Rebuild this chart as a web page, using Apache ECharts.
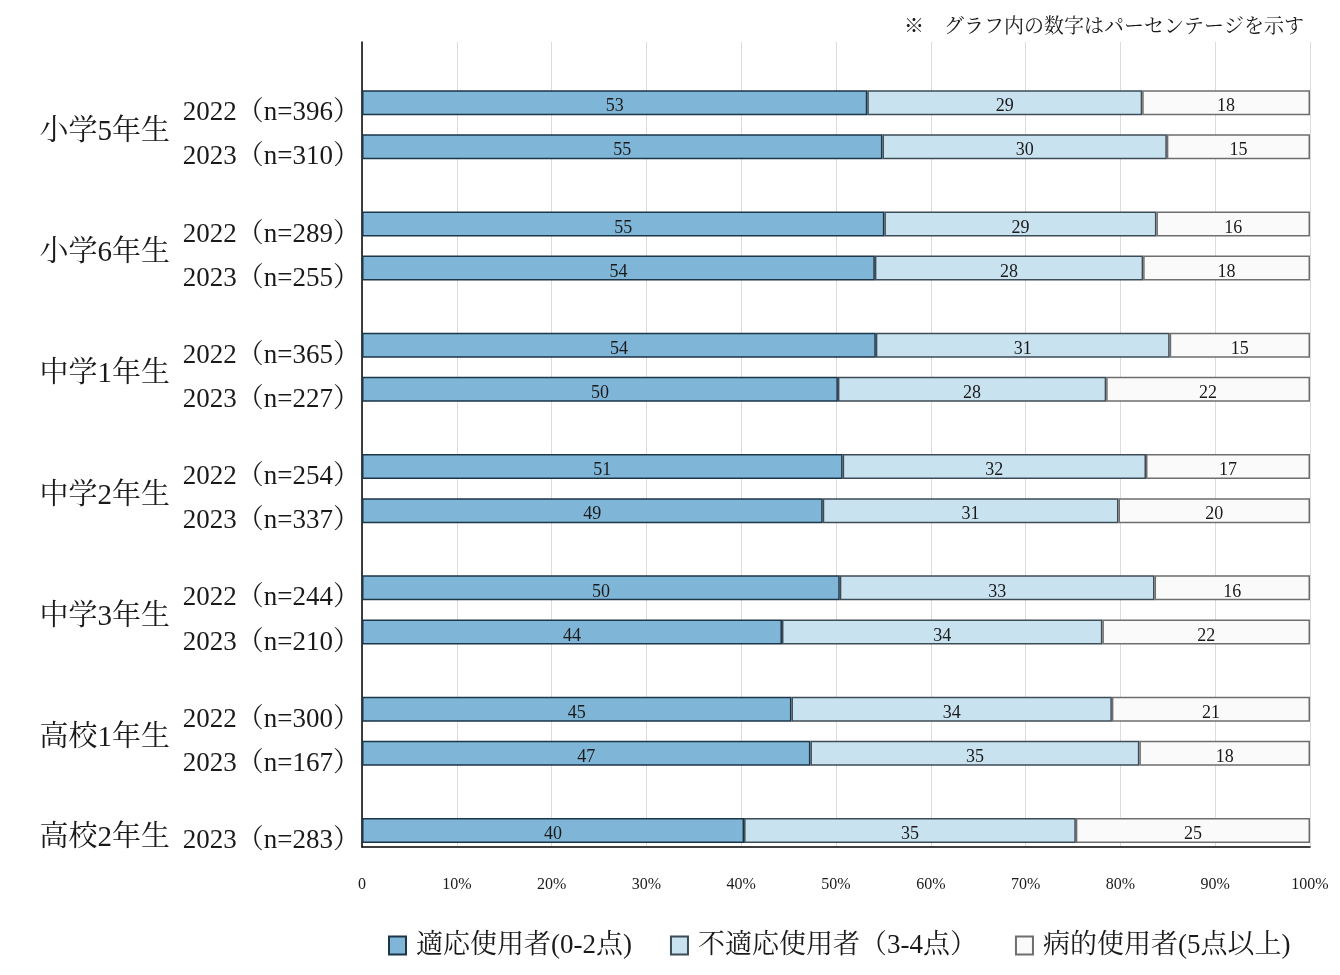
<!DOCTYPE html>
<html>
<head>
<meta charset="utf-8">
<script src="https://cdn.jsdelivr.net/npm/echarts@6/dist/echarts.min.js"></script>
<style>html,body{margin:0;padding:0;background:#fff}#c{width:1340px;height:975px}</style>
</head>
<body>
<div id="c"></div>
<script>
// ---- data ----
const groupNames = ['小学5年生','小学6年生','中学1年生','中学2年生','中学3年生','高校1年生','高校2年生'];
const rowLabels = [
  '2022（n=396）','2023（n=310）',
  '2022（n=289）','2023（n=255）',
  '2022（n=365）','2023（n=227）',
  '2022（n=254）','2023（n=337）',
  '2022（n=244）','2023（n=210）',
  '2022（n=300）','2023（n=167）',
  '2023（n=283）'
];
const rowGroup = [0,0,1,1,2,2,3,3,4,4,5,5,6];
const adaptive   = [53.3,54.9,55.1,54.1,54.2,50.2,50.7,48.6,50.4,44.3,45.3,47.3,40.3];
const maladaptive= [29.0,30.0,28.7,28.3,31.0,28.3,32.0,31.2,33.2,33.8,33.8,34.7,35.0];
const pathological=[17.7,15.1,16.2,17.6,14.8,21.5,17.3,20.2,16.4,21.9,20.9,18.0,24.7];
const seriesNames = ['適応使用者(0-2点)','不適応使用者（3-4点）','病的使用者(5点以上)'];
const xTicks = [0,10,20,30,40,50,60,70,80,90,100];
const note = '※　グラフ内の数字はパーセンテージを示す';

// ---- layout slots on the category axis ----
const NSLOT = 73;
const rowSlot = [5,9,16,20,27,31,38,42,49,53,60,64,71];
const groupSlot = [7,18,29,40,51,62,71];
const cats = [];
for (let i=0;i<NSLOT;i++){ cats.push('s'+i); }
const yearLabelMap = {}, groupLabelMap = {};
rowSlot.forEach((s,i)=>{ yearLabelMap['s'+s] = rowLabels[i]; });
groupSlot.forEach((s,i)=>{ groupLabelMap['s'+s] = groupNames[i]; });
function mk(arr){ const d = new Array(NSLOT).fill(null); rowSlot.forEach((s,i)=>{ d[s]=arr[i]; }); return d; }

const FONT = '"Liberation Serif","Noto Serif CJK JP","Noto Sans CJK JP",serif';
const chart = echarts.init(document.getElementById('c'));
const lbl = {show:true, position:'inside', color:'#1a1a1a', fontSize:18, fontFamily:FONT, offset:[0,4],
  formatter:p=> p.value==null?'':String(Math.round(p.value))};
chart.setOption({
  animation:false,
  textStyle:{fontFamily:FONT},
  grid:{left:362, right:30, top:42, bottom:128, containLabel:false},
  xAxis:{type:'value', min:0, max:100, interval:10,
    axisLine:{show:true, onZero:false, lineStyle:{color:'#000', width:1.5}},
    axisTick:{show:false},
    splitLine:{show:true, lineStyle:{color:'#dcdcdc', width:1}},
    axisLabel:{fontSize:16, color:'#1a1a1a', margin:30, fontFamily:FONT,
      formatter:v=> v===0?'0':v+'%'}
  },
  yAxis:[
    {type:'category', data:cats, inverse:true,
      axisLine:{show:true, lineStyle:{color:'#000', width:1.5}},
      axisTick:{show:false}, splitLine:{show:false},
      axisLabel:{interval:0, fontSize:27, color:'#1a1a1a', margin:2, fontFamily:FONT,
        verticalAlign:'top', lineHeight:21, formatter:v=> yearLabelMap[v]||''}
    },
    {type:'category', data:cats, inverse:true, position:'left', offset:184,
      axisLine:{show:false}, axisTick:{show:false}, splitLine:{show:false},
      axisLabel:{interval:0, fontSize:29, color:'#1a1a1a', margin:8, fontFamily:FONT,
        verticalAlign:'top', lineHeight:15, formatter:v=> groupLabelMap[v]||''}
    }
  ],
  legend:{left:383, top:927, itemWidth:17, itemHeight:18, itemGap:38, icon:'rect',
    textStyle:{fontSize:27, color:'#1a1a1a', fontFamily:FONT, padding:[0,0,0,5]},
    data:seriesNames},
  graphic:[{type:'text', right:36, top:18,
    style:{text:note, font:'20px '+FONT, fill:'#1a1a1a'}}],
  series:[
    {name:seriesNames[0], type:'bar', stack:'a', barWidth:25, data:mk(adaptive),
      itemStyle:{color:'#7fb6d8', borderColor:'#1c3547', borderWidth:1.5}, label:lbl},
    {name:seriesNames[1], type:'bar', stack:'a', barWidth:25, data:mk(maladaptive),
      itemStyle:{color:'#c9e2f0', borderColor:'#3d4b56', borderWidth:1.5}, label:lbl},
    {name:seriesNames[2], type:'bar', stack:'a', barWidth:25, data:mk(pathological),
      itemStyle:{color:'#fafafa', borderColor:'#6e6e6e', borderWidth:1.5}, label:lbl}
  ]
});
</script>
</body>
</html>
